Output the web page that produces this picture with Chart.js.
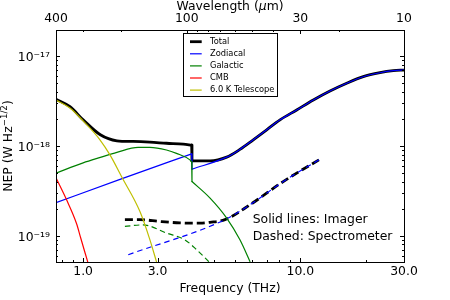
<!DOCTYPE html>
<html>
<head>
<meta charset="utf-8">
<style>
  html, body { margin: 0; padding: 0; background: #fff; }
  canvas { display: block; }
</style>
</head>
<body>
<canvas id="myChart" width="450" height="300"></canvas>
<script src="https://cdn.jsdelivr.net/npm/chart.js@4.4.1/dist/chart.umd.min.js"></script>
<script>
// frequencies in THz, NEP in W Hz^-1/2

// imager (solid lines)
const totalFreq = [0.75, 0.87, 1.0, 1.2, 1.43, 1.7, 2.03, 2.42, 2.89, 3.16, 3.17, 3.84, 4.58, 5.27, 6.07, 7.0, 8.06, 9.62, 11.47, 13.69, 16.34, 19.47, 23.25, 26.78, 30];
const totalNep = [3.3e-18, 2.73e-18, 1.95e-18, 1.33e-18, 1.14e-18, 1.12e-18, 1.1e-18, 1.07e-18, 1.045e-18, 1.02e-18, 6.8e-19, 6.8e-19, 7.49e-19, 9.14e-19, 1.17e-18, 1.51e-18, 1.95e-18, 2.51e-18, 3.24e-18, 4.08e-18, 4.98e-18, 5.89e-18, 6.52e-18, 6.87e-18, 6.99e-18];

const zodiFreq = [0.75, 1.5, 3.16, 3.17, 4.58, 5.27, 6.07, 7.0, 8.06, 9.62, 11.47, 13.69, 16.34, 19.47, 23.25, 26.78, 30];
const zodiNep = [2.33e-19, 4.3e-19, 8.15e-19, 5.51e-19, 7.49e-19, 9.14e-19, 1.17e-18, 1.51e-18, 1.95e-18, 2.51e-18, 3.24e-18, 4.08e-18, 4.98e-18, 5.89e-18, 6.52e-18, 6.87e-18, 6.99e-18];

const galFreq = [0.75, 1.0, 1.2, 1.43, 1.79, 2.03, 2.42, 2.69, 3.1, 3.16, 3.17, 3.84, 4.58, 5.27, 5.86];
const galNep = [4.98e-19, 6.48e-19, 7.45e-19, 8.47e-19, 9.62e-19, 9.62e-19, 9.0e-19, 8.26e-19, 6.99e-19, 6.64e-19, 4.01e-19, 2.62e-19, 1.57e-19, 9.0e-20, 5.18e-20];

const cmbFreq = [0.75, 0.839, 0.933, 0.974, 1.049];
const cmbNep = [4.41e-19, 2.51e-19, 1.36e-19, 9.5e-20, 5.14e-20];

const telFreq = [0.75, 0.869, 1.0, 1.195, 1.329, 1.504, 1.826, 2.03, 2.175];
const telNep = [3.24e-18, 2.64e-18, 1.9e-18, 1.17e-18, 7.94e-19, 4.53e-19, 1.86e-19, 9.0e-20, 5.14e-20];

// spectrometer (dashed lines)
const specTotalFreq = [1.557, 1.826, 2.258, 2.79, 3.45, 3.835, 4.497, 5.86, 8.34, 12.54];
const specTotalNep = [1.51e-19, 1.51e-19, 1.44e-19, 1.39e-19, 1.38e-19, 1.41e-19, 1.51e-19, 2.21e-19, 4.01e-19, 7.3e-19];

const specZodiFreq = [1.613, 4.497, 5.86, 8.34, 12.54];
const specZodiNep = [6.15e-20, 1.51e-19, 2.21e-19, 4.01e-19, 7.3e-19];

const specGalFreq = [1.557, 1.885, 2.42, 2.94, 3.33, 3.79];
const specGalNep = [1.27e-19, 1.32e-19, 1.07e-19, 9.0e-20, 6.99e-20, 5.14e-20];

// axes
const freqTickValues = [1.0, 2.2, 10, 30]; // the "3.0" label sits left of 3 THz in the original
const freqTickLabels = ["1.0", "3.0", "10.0", "30.0"];
const freqMinorTicks = [0.8, 0.9, 2, 3, 4, 5, 6, 7, 8, 9, 20];
const waveTickValues = [400, 100, 30, 10];
const waveTickLabels = ["400", "100", "30", "10"];
const waveMinorTicks = [300, 200, 90, 80, 70, 60, 50, 40, 20];
const nepTickValues = [1e-17, 1e-18, 1e-19];
const nepTickLabels = ["10⁻¹⁷", "10⁻¹⁸", "10⁻¹⁹"];

const legendNames = ["Total", "Zodiacal", "Galactic", "CMB", "6.0 K Telescope"];
const legendColors = ["#000000", "#0000ff", "#008000", "#ff0000", "#bfbf00"];

const FONT = '"DejaVu Sans", sans-serif';
Chart.defaults.font.family = FONT;
Chart.defaults.color = "#000";

// split a curve where it steps vertically, so the smoothing does not bend around the step
const tramos = (xs, ys) => {
  const out = [];
  let cur = [{ x: xs[0], y: ys[0] }];
  for (let i = 1; i < xs.length; i++) {
    const p = { x: xs[i], y: ys[i] };
    if (xs[i] / xs[i - 1] < 1.01) {
      out.push({ pts: cur, smooth: true });
      out.push({ pts: [cur[cur.length - 1], p], smooth: false });
      cur = [p];
    } else {
      cur.push(p);
    }
  }
  out.push({ pts: cur, smooth: true });
  return out;
};

const lineas = (label, xs, ys, color, width, order, dash) =>
  tramos(xs, ys).map((t) => ({
    label: label,
    data: t.pts,
    borderColor: color,
    backgroundColor: color,
    borderWidth: width,
    borderDash: dash || [],
    borderCapStyle: dash ? "butt" : "round",
    borderJoinStyle: "round",
    pointRadius: 0,
    fill: false,
    tension: 0,
    cubicInterpolationMode: t.smooth ? "monotone" : "default",
    order: order,
  }));

const richText = (ctx, parts, x, y, align) => {
  let w = 0;
  parts.forEach((p) => {
    ctx.font = p.font;
    w += ctx.measureText(p.t).width;
  });
  let cx = align === "center" ? x - w / 2 : x;
  parts.forEach((p) => {
    ctx.font = p.font;
    ctx.fillText(p.t, cx, y + (p.dy || 0));
    cx += ctx.measureText(p.t).width;
  });
};

const marcoPlugin = {
  id: "marco",
  afterDatasetsDraw(chart) {
    const { ctx, chartArea: a, scales } = chart;
    ctx.save();
    ctx.strokeStyle = "#000";
    ctx.lineWidth = 1;
    ctx.beginPath();
    const marcas = (scale, values, len, side) => {
      values.forEach((v) => {
        const p = Math.round(scale.getPixelForValue(v)) + 0.5;
        if (side === "bottom") {
          ctx.moveTo(p, a.bottom);
          ctx.lineTo(p, a.bottom - len);
        } else if (side === "top") {
          ctx.moveTo(p, a.top);
          ctx.lineTo(p, a.top + len);
        } else {
          ctx.moveTo(a.left, p);
          ctx.lineTo(a.left + len, p);
          ctx.moveTo(a.right, p);
          ctx.lineTo(a.right - len, p);
        }
      });
    };
    marcas(scales.x, freqTickValues, 4, "bottom");
    marcas(scales.x, freqMinorTicks, 2, "bottom");
    marcas(scales.x2, waveTickValues, 4, "top");
    marcas(scales.x2, waveMinorTicks, 2, "top");
    marcas(scales.y, nepTickValues, 4, "side");
    let minors = [];
    [1e-20, 1e-19, 1e-18, 1e-17].forEach((d) => {
      for (let k = 2; k < 10; k++) minors.push(k * d);
    });
    minors = minors.filter((v) => v > scales.y.min && v < scales.y.max);
    marcas(scales.y, minors, 2, "side");
    ctx.stroke();
    ctx.strokeRect(a.left + 0.5, a.top + 0.5, a.right - a.left, a.bottom - a.top);
    ctx.restore();
  },
  afterDraw(chart) {
    const { ctx, chartArea: a } = chart;
    ctx.save();
    ctx.fillStyle = "#000";
    ctx.textAlign = "left";
    ctx.textBaseline = "alphabetic";

    // top title
    richText(ctx, [
      { t: "Wavelength (", font: "12.4px " + FONT },
      { t: "μ", font: "italic 12.4px " + FONT },
      { t: "m)", font: "12.4px " + FONT },
    ], (a.left + a.right) / 2, 9.5, "center");

    // y title
    ctx.save();
    ctx.translate(12, (a.top + a.bottom) / 2);
    ctx.rotate(-Math.PI / 2);
    richText(ctx, [
      { t: "NEP (W Hz", font: "12.4px " + FONT },
      { t: "−1/2", font: "8.7px " + FONT, dy: -5 },
      { t: ")", font: "12.4px " + FONT },
    ], 0, 0, "center");
    ctx.restore();

    // notes
    ctx.font = "12.4px " + FONT;
    ctx.fillText("Solid lines: Imager", 252.7, 222.5);
    ctx.fillText("Dashed: Spectrometer", 252.7, 240);

    // legend
    const bx = 183.5, by = 33.5, bw = 94, bh = 63;
    ctx.fillStyle = "#fff";
    ctx.fillRect(bx, by, bw, bh);
    ctx.strokeStyle = "#000";
    ctx.lineWidth = 1;
    ctx.strokeRect(bx, by, bw, bh);
    ctx.font = "8.3px " + FONT;
    ctx.textBaseline = "middle";
    legendNames.forEach((n, i) => {
      const y = 41.7 + 12.1 * i;
      ctx.strokeStyle = legendColors[i];
      ctx.lineWidth = i === 0 ? 2.8 : 1.2;
      ctx.beginPath();
      ctx.moveTo(190, y);
      ctx.lineTo(201.7, y);
      ctx.stroke();
      ctx.fillStyle = "#000";
      ctx.fillText(n, 210, y);
    });
    ctx.restore();
  },
};

const ctx = document.getElementById("myChart");

new Chart(ctx, {
  type: "line",
  data: {
    datasets: [
      ...lineas("Total", totalFreq, totalNep, "#000000", 2.8, 50),
      ...lineas("Zodiacal", zodiFreq, zodiNep, "#0000ff", 1.2, 40),
      ...lineas("Galactic", galFreq, galNep, "#008000", 1.2, 30),
      ...lineas("CMB", cmbFreq, cmbNep, "#ff0000", 1.2, 20),
      ...lineas("6.0 K Telescope", telFreq, telNep, "#bfbf00", 1.2, 10),
      ...lineas("Total (spec)", specTotalFreq, specTotalNep, "#000000", 2.8, 45, [8, 4]),
      ...lineas("Zodiacal (spec)", specZodiFreq, specZodiNep, "#0000ff", 1.2, 35, [5.5, 4]),
      ...lineas("Galactic (spec)", specGalFreq, specGalNep, "#008000", 1.2, 25, [5.5, 3.5]),
    ],
  },
  options: {
    responsive: false,
    animation: false,
    layout: { padding: { left: 0, right: 46, top: 0, bottom: 0 } },
    plugins: { legend: { display: false }, tooltip: { enabled: false } },
    scales: {
      x: {
        type: "logarithmic",
        position: "bottom",
        min: 0.75,
        max: 30,
        grid: { display: false, drawTicks: false },
        border: { display: false },
        ticks: {
          autoSkip: false,
          maxRotation: 0,
          padding: 2,
          font: { size: 12.4 },
          color: "#000",
          callback: (v, i) => freqTickLabels[i],
        },
        afterBuildTicks: (s) => {
          s.ticks = freqTickValues.map((v) => ({ value: v }));
        },
        afterFit: (s) => {
          s.height = 38;
        },
        title: {
          display: true,
          text: "Frequency (THz)",
          font: { size: 12.4 },
          color: "#000",
          padding: { top: 0, bottom: 3.5 },
        },
      },
      x2: {
        type: "logarithmic",
        axis: "x",
        position: "top",
        reverse: true,
        min: 10,
        max: 400,
        grid: { display: false, drawTicks: false },
        border: { display: false },
        ticks: {
          autoSkip: false,
          maxRotation: 0,
          padding: 3.4,
          font: { size: 12.4 },
          color: "#000",
          callback: (v, i) => waveTickLabels[i],
        },
        afterBuildTicks: (s) => {
          s.ticks = waveTickValues.map((v) => ({ value: v }));
        },
        afterFit: (s) => {
          s.height = 30;
        },
      },
      y: {
        type: "logarithmic",
        position: "left",
        min: 5.1e-20,
        max: 1.95e-17,
        grid: { display: false, drawTicks: false },
        border: { display: false },
        ticks: {
          autoSkip: false,
          padding: 6,
          labelOffset: 2,
          font: { size: 12.4 },
          color: "#000",
          callback: (v, i) => nepTickLabels[i],
        },
        afterBuildTicks: (s) => {
          s.ticks = nepTickValues.map((v) => ({ value: v }));
        },
        afterFit: (s) => {
          s.width = 56;
        },
      },
    },
  },
  plugins: [marcoPlugin],
});
</script>
</body>
</html>
